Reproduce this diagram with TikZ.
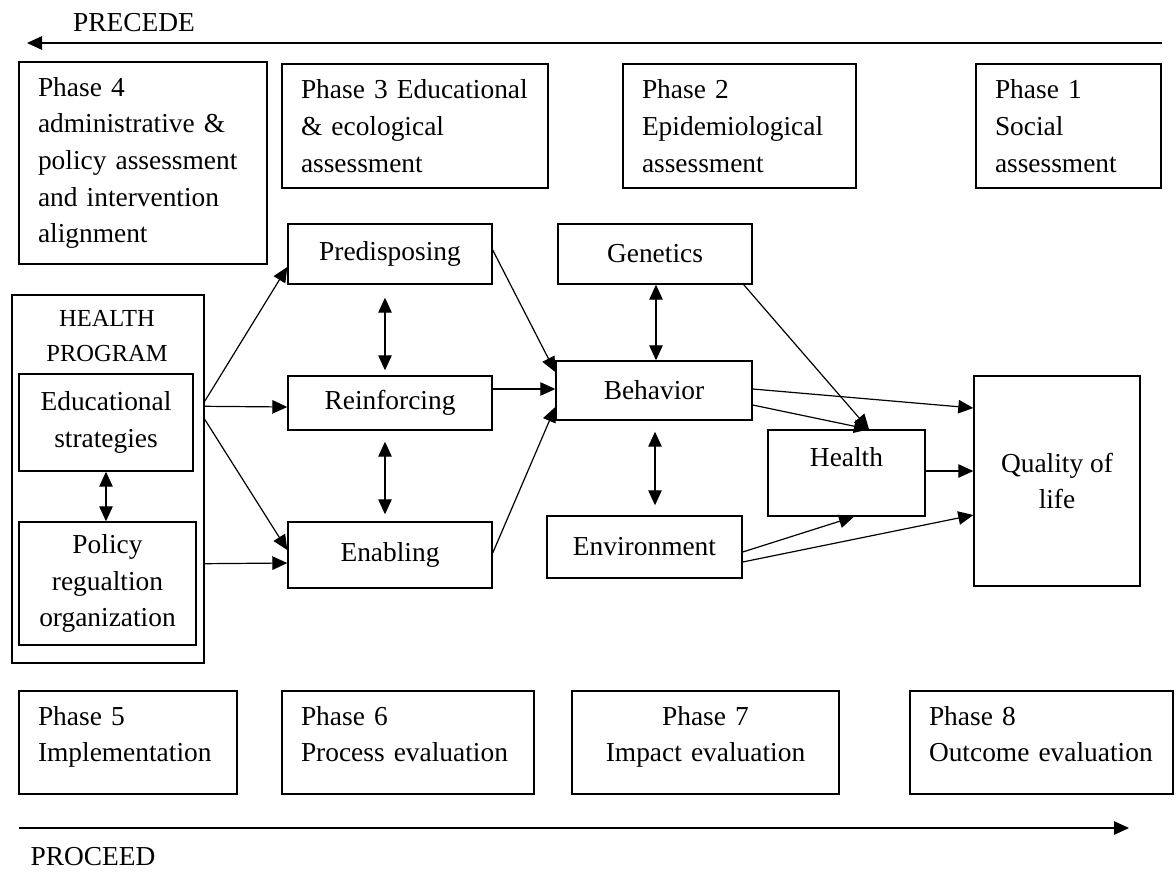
\documentclass[tikz,border=0pt]{standalone}
\usepackage{fontspec}
\setmainfont{Liberation Serif}
\usetikzlibrary{arrows.meta}
\newcommand\phtop{\rule{0pt}{20pt}}
\newcommand\phbot{\rule[-18pt]{0pt}{0pt}}
\begin{document}
\begin{tikzpicture}[x=1pt,y=-1pt,
  every node/.style={font=\fontsize{27.4}{36.7}\selectfont},
  box/.style={draw, line width=1.4pt, inner sep=0pt, align=center},
  phase/.style={draw, line width=1.4pt, inner xsep=19pt, inner ysep=0pt, align=left},
  arr/.style={line width=1.2pt, -{Triangle[length=15pt,width=13.5pt]}},
  darr/.style={line width=1.2pt, {Triangle[length=15pt,width=13.5pt]}-{Triangle[length=15pt,width=13.5pt]}},
]
\useasboundingbox[fill=white] (0,0) rectangle (1176,873);

% PRECEDE / PROCEED
\node (precede) at (134,23) {PRECEDE};
\coordinate (precR) at (1162,43);
\coordinate (precL) at (27,43);
\draw[arr] (precR) -- (precL);

\node (proceed) at (93,857) {PROCEED};
\coordinate (procL) at (19,828);
\coordinate (procR) at (1129,828);
\draw[arr] (procL) -- (procR);

% Top phases
\node[phase, minimum width=248pt, minimum height=202pt, text width=210pt] (ph4) at (143,163)
  {Phase 4\\administrative \&\\policy assessment\\and intervention\\alignment};
\node[phase, minimum width=266pt, minimum height=124pt, text width=228pt] (ph3) at (415,126)
  {\mbox{Phase 3 Educational}\\\& ecological\\assessment};
\node[phase, minimum width=233pt, minimum height=124pt, text width=195pt] (ph2) at (739.5,126)
  {Phase 2\\Epidemiological\\assessment};
\node[phase, minimum width=185pt, minimum height=124pt, text width=147pt] (ph1) at (1068.5,126)
  {Phase 1\\Social\\assessment};

% Middle
\node[box, minimum width=204pt, minimum height=60pt] (pred) at (390,254) {Predisposing};
\node[box, minimum width=204pt, minimum height=54pt] (reinf) at (390,403) {Reinforcing};
\node[box, minimum width=204pt, minimum height=66pt] (enab) at (390,555) {Enabling};

\node[box, minimum width=194pt, minimum height=60pt] (gen) at (655,254) {Genetics};
\node[box, minimum width=196pt, minimum height=59pt] (beh) at (654,390.5) {Behavior};
\node[box, minimum width=195pt, minimum height=62pt] (env) at (644.5,547) {Environment};
\node[box, minimum width=157pt, minimum height=86pt,
      label={[yshift=16pt]center:Health}] (health) at (846.5,473) {};
\node[box, minimum width=166pt, minimum height=210pt] (qol) at (1057,481) {Quality of\\life};

% Health program
\node[box, minimum width=192pt, minimum height=368pt] (hp) at (108,479) {};
\node[align=center, inner sep=0pt, font=\fontsize{24.5}{35}\selectfont] (hptitle) at (107,336.5) {HEALTH\\PROGRAM};
\node[box, minimum width=174pt, minimum height=97pt] (edu) at (106,422.5) {Educational\\strategies};
\node[box, minimum width=177pt, minimum height=123pt] (pol) at (107.5,583.5) {Policy\\regualtion\\organization};

% Bottom phases
\node[phase, minimum width=218pt, minimum height=103pt, text width=180pt] (ph5) at (128,742.5)
  {\phtop Phase 5\\Implementation\phbot};
\node[phase, minimum width=252pt, minimum height=103pt, text width=214pt] (ph6) at (408,742.5)
  {\phtop Phase 6\\Process evaluation\phbot};
\node[phase, align=center, minimum width=267pt, minimum height=103pt, text width=229pt] (ph7) at (705.5,742.5)
  {\phtop Phase 7\\Impact evaluation\phbot};
\node[phase, minimum width=263pt, minimum height=103pt, text width=225pt] (ph8) at (1041.5,742.5)
  {\phtop Phase 8\\\mbox{Outcome evaluation}\phbot};

% Connectors
\draw[arr] ([yshift=-107pt]hp.north east) -- ([yshift=-13pt]pred.west);
\draw[arr] ([yshift=-112pt]hp.north east) -- ([yshift=-4pt]reinf.west);
\draw[arr] ([yshift=-125pt]hp.north east) -- ([yshift=5pt]enab.west);
\draw[arr] ([yshift=100pt]hp.south east) -- ([yshift=-8pt]enab.west);
\draw[darr] (edu.south) -- (edu.south |- pol.north);

\draw[darr] ([xshift=-5pt,yshift=-13pt]pred.south) -- ([xshift=-5pt,yshift=5pt]reinf.north);
\draw[darr] ([xshift=-5pt,yshift=-11pt]reinf.south) -- ([xshift=-5pt,yshift=7pt]enab.north);

\draw[arr] ([yshift=4pt]pred.east) -- ([yshift=18.5pt]beh.west);
\draw[arr] ([yshift=14pt]reinf.east) -- ([yshift=1.5pt]beh.west);
\draw[arr] ([yshift=2pt]enab.east) -- ([yshift=-16.5pt]beh.west);

\draw[darr] ([xshift=1pt]gen.south) -- ([xshift=1pt]gen.south |- beh.north);
\draw[darr] ([xshift=1pt,yshift=-11pt]beh.south) -- ([xshift=1pt,yshift=10pt]beh.south |- env.north);

\draw[arr] ([xshift=-9pt]gen.south east) -- ([xshift=22.5pt]health.north);
\draw[arr] ([yshift=-14.5pt]beh.east) -- ([xshift=22.5pt]health.north);
\draw[arr] ([yshift=1.5pt]beh.east) -- ([yshift=73pt]qol.west);
\draw[arr] ([yshift=2pt]health.east) -- ([yshift=10pt]qol.west);
\draw[arr] ([yshift=-5pt]env.east) -- ([xshift=7.5pt]health.south);
\draw[arr] ([yshift=-15pt]env.east) -- ([yshift=-34pt]qol.west);
\end{tikzpicture}
\end{document}
